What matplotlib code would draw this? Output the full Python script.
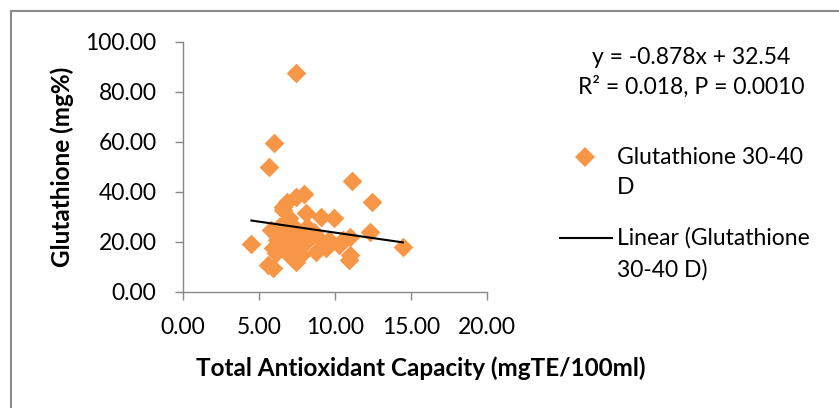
import numpy as np
import matplotlib.pyplot as plt
from matplotlib.lines import Line2D

plt.rcParams['font.family'] = ['Lato', 'DejaVu Sans']

# Total antioxidant capacity (mgTE/100ml) vs glutathione (mg%)
tac = [7.42, 6.00, 5.67, 11.10, 12.45, 14.46, 4.50, 5.60, 5.90, 7.42,
       10.90, 11.00, 12.30, 11.00, 7.95, 7.42, 6.87, 6.55, 6.55, 8.10,
       9.06, 9.93, 6.98, 5.80, 5.90, 8.73, 9.40, 10.26, 10.50, 9.60,
       8.85, 8.08, 7.42, 6.66, 6.20, 6.98, 7.64, 6.33, 8.18, 7.20,
       8.62, 6.10, 6.98, 7.75]
gsh = [87.7, 59.5, 50.1, 44.4, 36.0, 18.1, 19.1, 10.8, 9.6, 12.1,
       12.8, 15.0, 24.1, 22.1, 39.3, 38.1, 36.0, 34.1, 32.8, 31.5,
       30.1, 29.5, 29.5, 24.8, 17.5, 16.1, 17.5, 18.8, 20.8, 20.8,
       21.5, 20.1, 18.1, 18.8, 20.8, 22.8, 24.1, 26.1, 26.1, 26.8,
       24.1, 15.5, 14.8, 14.8]

# trend line as printed on the chart
slope = -0.878
intercept = 32.54
eq_lines = ['y = -0.878x + 32.54', 'R\u00b2 = 0.018, P = 0.0010']

xticks = [0, 5, 10, 15, 20]
yticks = [0, 20, 40, 60, 80, 100]

W, H = 839, 408
fig = plt.figure(figsize=(W / 100, H / 100), dpi=100)
ax = fig.add_axes([183 / W, 1 - 292 / H, 304 / W, 250 / H])

orange = '#F79646'
grey = '#878787'
fs = 16.5

ax.scatter(tac, gsh, marker='D', s=100, color=orange, linewidths=0, zorder=2)
xl = np.array([min(tac), max(tac)])
ax.plot(xl, slope * xl + intercept, color='black', lw=1.5, zorder=3)

ax.set_xlim(0, 20)
ax.set_ylim(0, 100)
ax.set_xticks(xticks)
ax.set_yticks(yticks)
ax.set_xticklabels([f'{v:.2f}' for v in xticks])
ax.set_yticklabels([f'{v:.2f}' for v in yticks])
ax.tick_params(labelsize=fs, length=6, width=1, color=grey, direction='out')
ax.tick_params(axis='x', pad=12)
ax.tick_params(axis='y', pad=13)
for side in ['top', 'right']:
    ax.spines[side].set_visible(False)
for side in ['left', 'bottom']:
    ax.spines[side].set_color(grey)
    ax.spines[side].set_linewidth(1)

ax.set_xlabel('Total Antioxidant Capacity (mgTE/100ml)', fontsize=17.5,
              fontweight='bold', va='center')
ax.xaxis.set_label_coords((421 - 183) / 304, (292 - 368) / 250)
ax.set_ylabel('Glutathione (mg%)', fontsize=17.5, fontweight='bold', va='center')
ax.yaxis.set_label_coords((62 - 183) / 304, 0.5)

# equation text
fig.text(691 / W, 1 - 57 / H, eq_lines[0], fontsize=fs, ha='center', va='center')
fig.text(691 / W, 1 - 87 / H, eq_lines[1], fontsize=fs, ha='center', va='center')

# legend, drawn by hand to keep Excel's wrapped layout
fig.add_artist(Line2D([585 / W], [1 - 157 / H], marker='D', markersize=10,
                      color=orange, markeredgewidth=0, transform=fig.transFigure))
fig.text(617 / W, 1 - 157 / H, 'Glutathione 30-40', fontsize=fs, va='center')
fig.text(617 / W, 1 - 188 / H, 'D', fontsize=fs, va='center')
fig.add_artist(Line2D([560 / W, 612 / W], [1 - 238 / H, 1 - 238 / H], color='black',
                      lw=1.5, transform=fig.transFigure))
fig.text(617 / W, 1 - 238 / H, 'Linear (Glutathione', fontsize=fs, va='center')
fig.text(617 / W, 1 - 270 / H, '30-40 D)', fontsize=fs, va='center')

# chart border (only top and left edges are in view)
fig.add_artist(Line2D([11 / W, 11 / W], [0, 1 - 11 / H], color='#8c8c8c', lw=1.5,
                      transform=fig.transFigure))
fig.add_artist(Line2D([11 / W, 1], [1 - 11 / H, 1 - 11 / H], color='#8c8c8c', lw=1.5,
                      transform=fig.transFigure))

fig.savefig('out.png', dpi=100)
